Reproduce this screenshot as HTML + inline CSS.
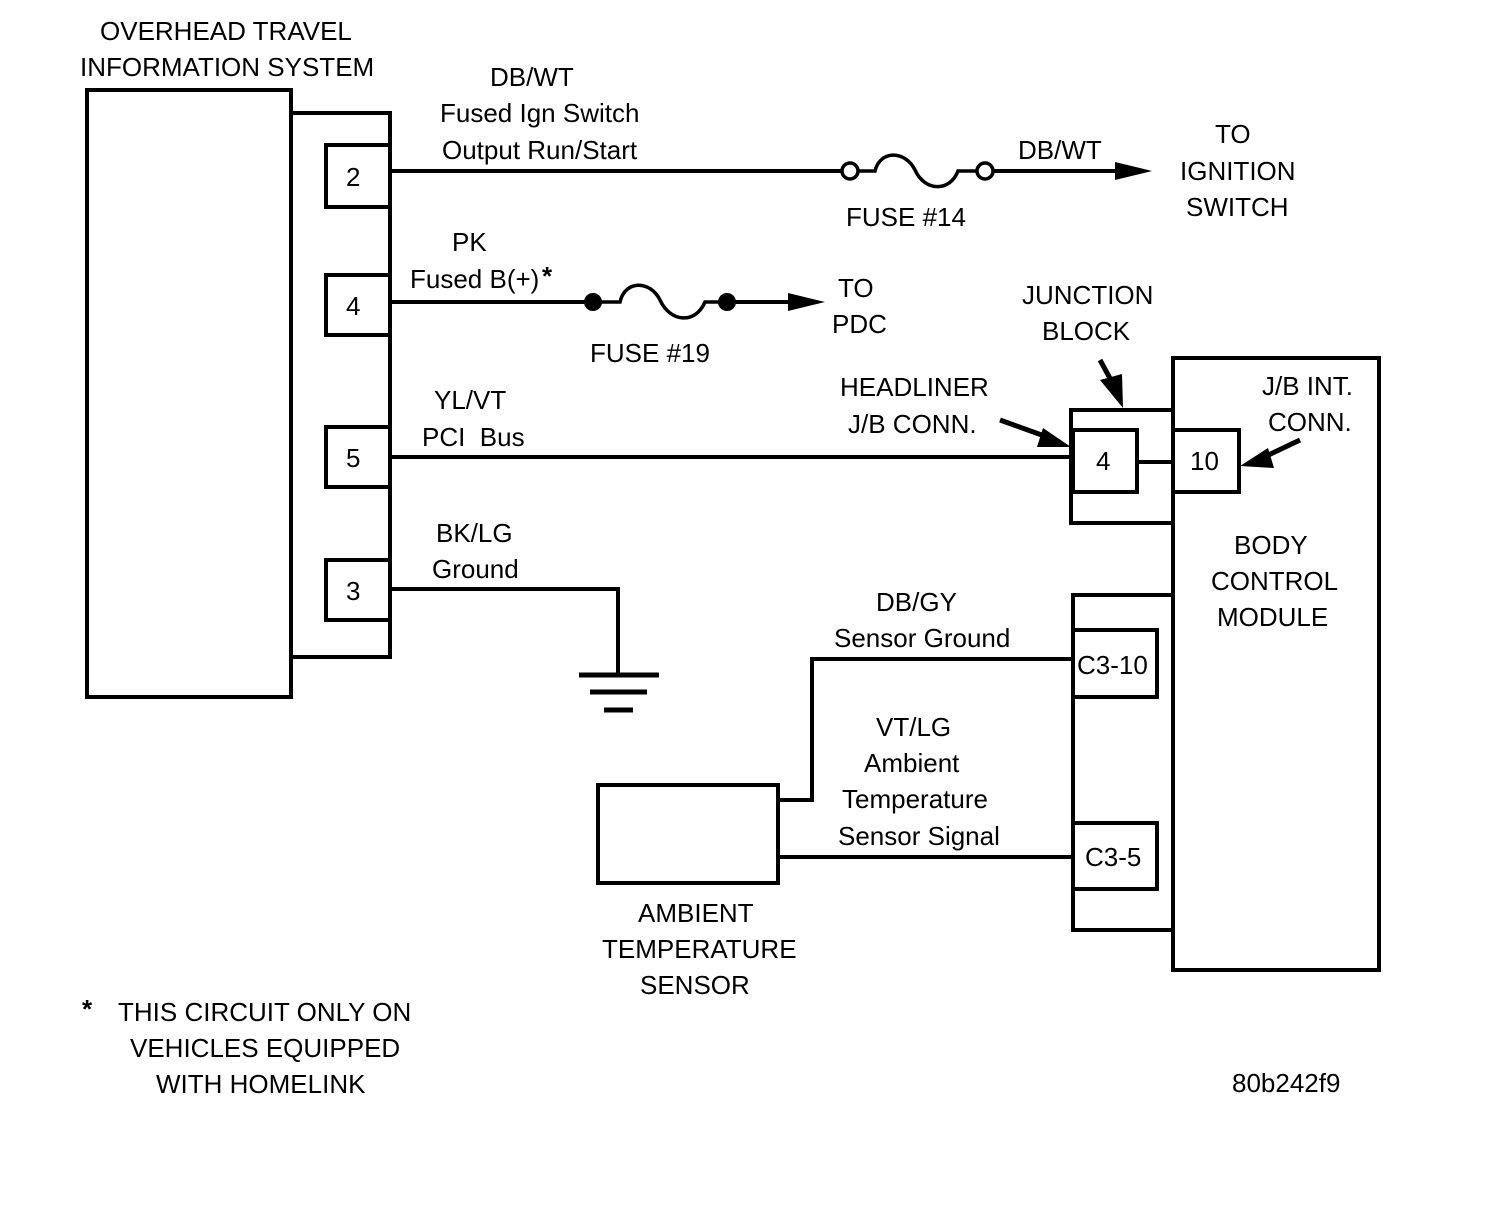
<!DOCTYPE html>
<html><head><meta charset="utf-8"><style>
html,body{margin:0;padding:0;background:#fff;}
svg{display:block}
text{font-family:"Liberation Sans",sans-serif;font-size:26px;fill:#000;}
</style></head><body>
<svg width="1504" height="1216" viewBox="0 0 1504 1216" xmlns="http://www.w3.org/2000/svg">
<g fill="none" stroke="#000" stroke-width="4">
<rect x="87" y="90" width="204" height="607"/>
<polyline points="291,113 390,113 390,657 291,657"/>
<rect x="326" y="145" width="64" height="62"/>
<rect x="326" y="275" width="64" height="60"/>
<rect x="326" y="427" width="64" height="60"/>
<rect x="326" y="560" width="64" height="60"/>
<line x1="390" y1="171" x2="842" y2="171"/>
<circle cx="850" cy="171" r="8" stroke-width="3.5"/>
<path d="M858,171 L875,171 C880,150 905,150 915,170 C925,192 950,192 958,171 L977,171" stroke-width="3.5"/>
<circle cx="985" cy="171" r="8" stroke-width="3.5"/>
<line x1="993" y1="171" x2="1115" y2="171"/>
<line x1="390" y1="302" x2="593" y2="302"/>
<path d="M593,302 L620,302 C625,280 650,280 660,300 C670,322 695,325 705,302 L727,302" stroke-width="3.5"/>
<line x1="727" y1="302" x2="792" y2="302"/>
<line x1="390" y1="457" x2="1073" y2="457"/>
<polyline points="390,589 618,589 618,675"/>
<line x1="579" y1="675" x2="659" y2="675" stroke-width="5"/>
<line x1="590" y1="692" x2="647" y2="692" stroke-width="5"/>
<line x1="604" y1="710" x2="633" y2="710" stroke-width="5"/>
<polyline points="1173,410 1071,410 1071,523 1173,523"/>
<rect x="1073" y="430" width="64" height="62"/>
<line x1="1137" y1="462" x2="1173" y2="462"/>
<rect x="1173" y="358" width="206" height="612"/>
<rect x="1173" y="430" width="66" height="62"/>
<polyline points="1173,595 1073,595 1073,930 1173,930"/>
<rect x="1073" y="630" width="84" height="67"/>
<rect x="1073" y="823" width="84" height="66"/>
<polyline points="1073,659 812,659 812,800 778,800"/>
<rect x="598" y="785" width="180" height="98"/>
<line x1="778" y1="857" x2="1073" y2="857"/>
<line x1="1000" y1="420" x2="1050" y2="438" stroke-width="5"/>
<line x1="1100" y1="360" x2="1112" y2="382" stroke-width="5"/>
<line x1="1300" y1="440" x2="1262" y2="458" stroke-width="5"/>
</g>
<g fill="#000">
<polygon points="1115,162 1152,171 1115,180"/>
<polygon points="788,293 825,302 788,311"/>
<circle cx="593" cy="302" r="9"/>
<circle cx="727" cy="302" r="9"/>
<polygon points="1043,428 1071,447 1037,447"/>
<polygon points="1100,380 1123,408 1122,374"/>
<polygon points="1268,448 1240,466 1274,468"/>
</g>
<g>
<text x="100" y="40">OVERHEAD TRAVEL</text>
<text x="80" y="76">INFORMATION SYSTEM</text>
<text x="346" y="186" font-size="24">2</text>
<text x="346" y="315" font-size="24">4</text>
<text x="346" y="467" font-size="24">5</text>
<text x="346" y="600" font-size="24">3</text>
<text x="490" y="86">DB/WT</text>
<text x="440" y="122">Fused Ign Switch</text>
<text x="442" y="159">Output Run/Start</text>
<text x="1018" y="159">DB/WT</text>
<text x="846" y="226">FUSE #14</text>
<text x="1215" y="143">TO</text>
<text x="1180" y="180">IGNITION</text>
<text x="1186" y="216">SWITCH</text>
<text x="452" y="251">PK</text>
<text x="410" y="288">Fused B(+)</text>
<text x="542" y="285" font-size="38" font-weight="bold">*</text>
<text x="590" y="362">FUSE #19</text>
<text x="838" y="297">TO</text>
<text x="832" y="333">PDC</text>
<text x="1022" y="304">JUNCTION</text>
<text x="1042" y="340">BLOCK</text>
<text x="840" y="396">HEADLINER</text>
<text x="848" y="433">J/B CONN.</text>
<text x="1262" y="395">J/B INT.</text>
<text x="1268" y="431">CONN.</text>
<text x="1096" y="470" font-size="24">4</text>
<text x="1190" y="470" font-size="24">10</text>
<text x="434" y="409">YL/VT</text>
<text x="422" y="446">PCI&#160; Bus</text>
<text x="436" y="542">BK/LG</text>
<text x="432" y="578">Ground</text>
<text x="1234" y="554">BODY</text>
<text x="1211" y="590">CONTROL</text>
<text x="1217" y="626">MODULE</text>
<text x="876" y="611">DB/GY</text>
<text x="834" y="647">Sensor Ground</text>
<text x="1077" y="674" font-size="24">C3-10</text>
<text x="876" y="736">VT/LG</text>
<text x="864" y="772">Ambient</text>
<text x="842" y="808">Temperature</text>
<text x="838" y="845">Sensor Signal</text>
<text x="1085" y="866" font-size="24">C3-5</text>
<text x="638" y="922">AMBIENT</text>
<text x="602" y="958">TEMPERATURE</text>
<text x="640" y="994">SENSOR</text>
<text x="82" y="1018" font-size="44" font-weight="bold">*</text>
<text x="118" y="1021">THIS CIRCUIT ONLY ON</text>
<text x="130" y="1057">VEHICLES EQUIPPED</text>
<text x="156" y="1093">WITH HOMELINK</text>
<text x="1232" y="1092" font-size="24">80b242f9</text>
</g>
</svg>
</body></html>
